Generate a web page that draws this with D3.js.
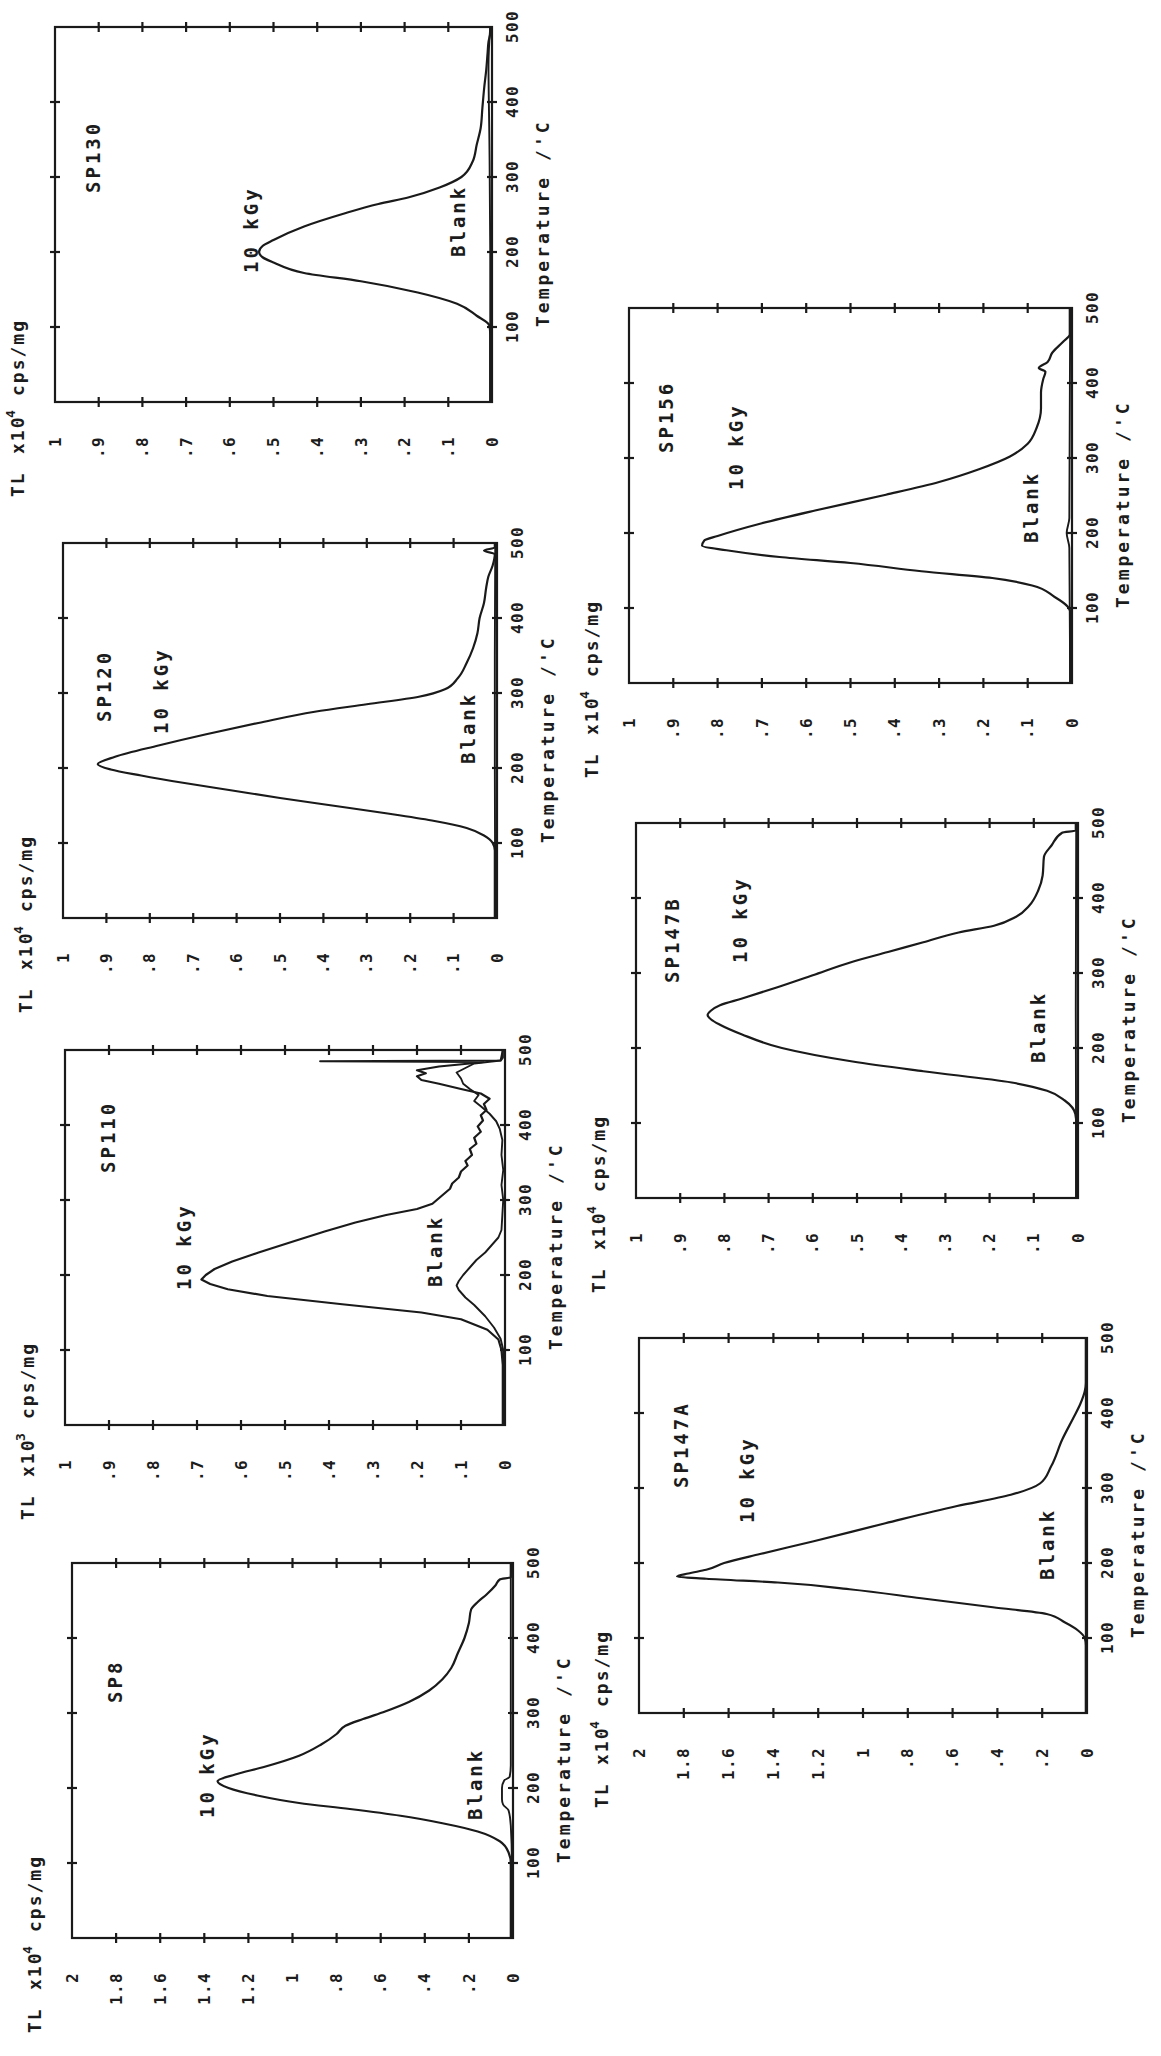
<!DOCTYPE html>
<html>
<head>
<meta charset="utf-8">
<script src="https://cdn.jsdelivr.net/npm/d3@7"></script>
<style>
  html, body { margin: 0; padding: 0; background: #ffffff; }
  svg { display: block; }
  text { font-family: "DejaVu Sans Mono", "Liberation Mono", monospace; fill: #1c1c1c; font-weight: bold; }
  .tick text { font-size: 16px; letter-spacing: 1.4px; }
  .axis-title { font-size: 18px; letter-spacing: 2px; }
  .temp-title { font-size: 18px; letter-spacing: 3px; }
  .note { font-size: 19px; letter-spacing: 3px; }
</style>
</head>
<body>
<svg id="page" width="1161" height="2056"></svg>
<script>
// ---- Glow-curve readings: temperature (°C) and TL intensity ----
const tempTicks = [100, 200, 300, 400, 500];
const tlTicks2 = [0, 0.2, 0.4, 0.6, 0.8, 1, 1.2, 1.4, 1.6, 1.8, 2];
const tlTicks1 = [0, 0.1, 0.2, 0.3, 0.4, 0.5, 0.6, 0.7, 0.8, 0.9, 1];

// SP8 (x10^4 cps/mg)
const tempSP8 = [0, 60, 100, 114, 129, 142, 153, 163, 172, 180, 190, 200, 209, 218, 228, 243, 258, 272, 283, 292, 302, 315, 330, 345, 360, 380, 400, 420, 438, 448, 458, 470, 478, 481, 490, 500];
const doseSP8 = [0.01, 0.01, 0.01, 0.02, 0.06, 0.16, 0.32, 0.51, 0.74, 0.97, 1.16, 1.29, 1.34, 1.26, 1.13, 0.97, 0.87, 0.80, 0.76, 0.68, 0.58, 0.47, 0.38, 0.32, 0.28, 0.25, 0.22, 0.20, 0.19, 0.16, 0.12, 0.08, 0.06, 0.01, 0.01, 0.01];
const blankTempSP8 = [0, 100, 150, 170, 178, 185, 200, 210, 215, 230, 300, 400, 480, 500];
const blankSP8 = [0.005, 0.005, 0.01, 0.02, 0.045, 0.05, 0.05, 0.04, 0.015, 0.01, 0.01, 0.01, 0.01, 0.005];

// SP110 (x10^3 cps/mg)
const tempSP110 = [0, 80, 100, 114, 127, 141, 150, 161, 172, 181, 188, 194, 200, 208, 218, 230, 245, 258, 270, 280, 288, 295, 305, 315, 322, 330, 338, 346, 352, 360, 368, 375, 383, 391, 398, 406, 413, 420, 428, 435, 442, 448, 455, 460, 465, 469, 473, 478, 482, 484, 485, 486, 490, 500];
const doseSP110 = [0.005, 0.005, 0.008, 0.015, 0.04, 0.10, 0.19, 0.37, 0.54, 0.63, 0.67, 0.69, 0.68, 0.66, 0.62, 0.56, 0.48, 0.41, 0.34, 0.27, 0.20, 0.165, 0.145, 0.125, 0.12, 0.105, 0.10, 0.085, 0.09, 0.075, 0.08, 0.065, 0.07, 0.055, 0.062, 0.05, 0.055, 0.042, 0.048, 0.035, 0.055, 0.10, 0.15, 0.19, 0.20, 0.18, 0.20, 0.15, 0.08, 0.05, 0.42, 0.01, 0.005, 0.005];
const blankTempSP110 = [0, 100, 115, 130, 145, 160, 170, 180, 186, 192, 200, 210, 220, 230, 240, 250, 260, 280, 300, 320, 340, 360, 380, 395, 405, 415, 425, 432, 440, 448, 455, 462, 470, 476, 482, 486, 500];
const blankSP110 = [0.004, 0.004, 0.01, 0.025, 0.045, 0.07, 0.09, 0.105, 0.11, 0.105, 0.095, 0.08, 0.065, 0.045, 0.03, 0.015, 0.008, 0.006, 0.004, 0.008, 0.004, 0.008, 0.006, 0.012, 0.02, 0.035, 0.055, 0.07, 0.06, 0.08, 0.095, 0.10, 0.11, 0.09, 0.07, 0.01, 0.005];

// SP120 (x10^4 cps/mg)
const tempSP120 = [0, 90, 100, 110, 120, 130, 140, 150, 160, 170, 180, 190, 198, 205, 215, 230, 245, 260, 275, 285, 295, 305, 320, 340, 360, 380, 400, 420, 440, 455, 470, 485, 490, 494, 500];
const doseSP120 = [0.005, 0.005, 0.01, 0.03, 0.07, 0.15, 0.26, 0.38, 0.50, 0.61, 0.72, 0.82, 0.89, 0.92, 0.88, 0.78, 0.67, 0.55, 0.42, 0.30, 0.18, 0.12, 0.09, 0.07, 0.055, 0.045, 0.04, 0.03, 0.025, 0.02, 0.01, 0.005, 0.03, 0.005, 0.005];
const blankTempSP120 = [0, 200, 350, 500];
const blankSP120 = [0.004, 0.005, 0.005, 0.004];

// SP130 (x10^4 cps/mg)
const tempSP130 = [0, 90, 102, 115, 131, 146, 161, 172, 186, 193, 200, 208, 216, 234, 251, 264, 273, 286, 300, 321, 343, 365, 392, 418, 444, 466, 480, 492, 500];
const doseSP130 = [0.004, 0.004, 0.006, 0.035, 0.08, 0.17, 0.30, 0.43, 0.50, 0.525, 0.533, 0.525, 0.50, 0.43, 0.34, 0.26, 0.19, 0.12, 0.07, 0.044, 0.035, 0.026, 0.022, 0.018, 0.013, 0.01, 0.008, 0.004, 0.004];
const blankTempSP130 = [0, 200, 350, 450, 500];
const blankSP130 = [0.004, 0.004, 0.006, 0.008, 0.004];

// SP147A (x10^4 cps/mg)
const tempSP147A = [0, 90, 100, 110, 121, 132, 141, 153, 165, 174, 179, 182, 186, 191, 200, 212, 229, 253, 276, 291, 306, 329, 365, 394, 412, 429, 440, 500];
const doseSP147A = [0.005, 0.005, 0.01, 0.04, 0.10, 0.18, 0.42, 0.74, 1.06, 1.38, 1.70, 1.83, 1.78, 1.70, 1.62, 1.46, 1.22, 0.90, 0.58, 0.34, 0.21, 0.16, 0.11, 0.06, 0.03, 0.01, 0.005, 0.005];
const blankTempSP147A = [0, 250, 500];
const blankSP147A = [0.005, 0.006, 0.005];

// SP147B (x10^4 cps/mg)
const tempSP147B = [0, 100, 112, 130, 143, 154, 169, 182, 200, 218, 231, 238, 244, 250, 257, 266, 281, 297, 315, 328, 341, 354, 363, 375, 390, 410, 430, 455, 470, 487, 490, 500];
const doseSP147B = [0.004, 0.004, 0.006, 0.03, 0.07, 0.15, 0.35, 0.51, 0.67, 0.76, 0.81, 0.83, 0.838, 0.83, 0.81, 0.76, 0.68, 0.60, 0.51, 0.43, 0.35, 0.27, 0.19, 0.14, 0.11, 0.09, 0.08, 0.077, 0.06, 0.036, 0.005, 0.005];
const blankTempSP147B = [0, 250, 500];
const blankSP147B = [0.004, 0.005, 0.004];

// SP156 (x10^4 cps/mg)
const tempSP156 = [0, 95, 102, 115, 130, 140, 149, 160, 168, 177, 183, 190, 196, 213, 230, 251, 268, 285, 302, 319, 340, 366, 387, 405, 415, 420, 428, 440, 455, 465, 500];
const doseSP156 = [0.004, 0.004, 0.01, 0.04, 0.09, 0.18, 0.34, 0.50, 0.66, 0.78, 0.835, 0.83, 0.80, 0.70, 0.58, 0.42, 0.30, 0.21, 0.14, 0.10, 0.08, 0.07, 0.07, 0.065, 0.06, 0.075, 0.055, 0.045, 0.02, 0.005, 0.005];
const blankTempSP156 = [0, 180, 200, 220, 500];
const blankSP156 = [0.004, 0.006, 0.012, 0.006, 0.004];

// ---- Page layout (the sheet is printed sideways) ----
const ink = "#1a1a1a";
const chartW = 375;                 // length of the temperature axis
const doseLabel = "10 kGy";
const blankLabel = "Blank";

const panels = [
  { name: "SP8",    exp: "4", tlMax: 2, ticks: tlTicks2, dose: [tempSP8, doseSP8],       blank: [blankTempSP8, blankSP8],       frame: [72, 513, 1938],  nameAt: [235, 50], doseAt: [120, 142], blankAt: [118, 410], smooth: true },
  { name: "SP110",  exp: "3", tlMax: 1, ticks: tlTicks1, dose: [tempSP110, doseSP110],   blank: [blankTempSP110, blankSP110],   frame: [65, 505, 1425],  nameAt: [252, 50], doseAt: [135, 126], blankAt: [138, 377], smooth: false },
  { name: "SP120",  exp: "4", tlMax: 1, ticks: tlTicks1, dose: [tempSP120, doseSP120],   blank: [blankTempSP120, blankSP120],   frame: [63, 497, 918],   nameAt: [196, 48], doseAt: [184, 105], blankAt: [154, 412], smooth: true },
  { name: "SP130",  exp: "4", tlMax: 1, ticks: tlTicks1, dose: [tempSP130, doseSP130],   blank: [blankTempSP130, blankSP130],   frame: [55, 492, 402],   nameAt: [209, 45], doseAt: [129, 203], blankAt: [145, 410], smooth: true },
  { name: "SP147A", exp: "4", tlMax: 2, ticks: tlTicks2, dose: [tempSP147A, doseSP147A], blank: [blankTempSP147A, blankSP147A], frame: [639, 1087, 1713], nameAt: [225, 49], doseAt: [190, 115], blankAt: [133, 415], smooth: true },
  { name: "SP147B", exp: "4", tlMax: 1, ticks: tlTicks1, dose: [tempSP147B, doseSP147B], blank: [blankTempSP147B, blankSP147B], frame: [636, 1078, 1198], nameAt: [215, 43], doseAt: [235, 111], blankAt: [135, 409], smooth: true },
  { name: "SP156",  exp: "4", tlMax: 1, ticks: tlTicks1, dose: [tempSP156, doseSP156],   blank: [blankTempSP156, blankSP156],   frame: [629, 1072, 683], nameAt: [230, 44], doseAt: [193, 114], blankAt: [140, 409], smooth: true }
];

const fmtTL = v => v === 0 ? "0" : (v >= 1 ? String(v) : String(v).replace(/^0/, ""));

const svg = d3.select("#page");
svg.append("rect").attr("width", 1161).attr("height", 2056).attr("fill", "#ffffff");

panels.forEach(p => {
  const h = p.frame[1] - p.frame[0];
  // Each glow curve is drawn as an ordinary chart, then turned a quarter turn.
  const g = svg.append("g")
    .attr("transform", `translate(${p.frame[0]},${p.frame[2]}) rotate(-90)`);

  const x = d3.scaleLinear().domain([0, 500]).range([0, chartW]);
  const y = d3.scaleLinear().domain([p.tlMax, 0]).range([0, h]);

  // frame
  g.append("rect")
    .attr("width", chartW).attr("height", h)
    .attr("fill", "none").attr("stroke", ink).attr("stroke-width", 2.2);

  // tick marks crossing every side of the frame
  const tk = 5;
  const tlInner = p.ticks.filter(v => v > 0 && v < p.tlMax);
  const tInner = tempTicks.filter(v => v < 500);
  const tickLines = (sel, data, attrs) => sel.append("g").selectAll("line").data(data).join("line")
    .attr("x1", attrs.x1).attr("x2", attrs.x2).attr("y1", attrs.y1).attr("y2", attrs.y2)
    .attr("stroke", ink).attr("stroke-width", 2.2);
  tickLines(g, tlInner, { x1: -tk, x2: tk, y1: d => y(d), y2: d => y(d) });
  tickLines(g, tlInner, { x1: chartW - tk, x2: chartW + tk, y1: d => y(d), y2: d => y(d) });
  tickLines(g, tInner, { x1: d => x(d), x2: d => x(d), y1: h - tk, y2: h + tk });
  tickLines(g, tInner, { x1: d => x(d), x2: d => x(d), y1: -tk, y2: tk });

  // tick labels
  g.append("g")
    .attr("transform", `translate(0,${h})`)
    .call(d3.axisBottom(x).tickValues(tempTicks).tickSize(0).tickPadding(15))
    .call(a => a.attr("font-family", null).attr("font-size", null))
    .call(a => a.select(".domain").remove());
  g.append("g")
    .call(d3.axisLeft(y).tickValues(p.ticks).tickSize(0).tickPadding(34).tickFormat(fmtTL))
    .call(a => a.attr("font-family", null).attr("font-size", null))
    .call(a => a.select(".domain").remove());

  // axis titles
  const t = g.append("text").attr("class", "axis-title").attr("y", -31);
  t.append("tspan").attr("x", -95).text("TL");
  t.append("tspan").attr("x", -52).text("x10");
  t.append("tspan").attr("x", -16).attr("dy", -9).style("font-size", "13px").text(p.exp);
  t.append("tspan").attr("x", 6).attr("dy", 9).text("cps/mg");

  g.append("text").attr("class", "temp-title")
    .attr("x", 75).attr("y", h + 57)
    .text("Temperature /'C");

  // curves
  const line = d3.line()
    .x(d => x(d[0])).y(d => y(d[1]))
    .curve(p.smooth ? d3.curveMonotoneX : d3.curveLinear);
  const pts = (ts, vs) => ts.map((tv, i) => [tv, vs[i]]);

  g.append("path").datum(pts(p.blank[0], p.blank[1]))
    .attr("d", line).attr("fill", "none").attr("stroke", ink).attr("stroke-width", 1.9)
    .attr("stroke-linejoin", "round");
  g.append("path").datum(pts(p.dose[0], p.dose[1]))
    .attr("d", line).attr("fill", "none").attr("stroke", ink).attr("stroke-width", 2.2)
    .attr("stroke-linejoin", "round");

  // annotations
  g.append("text").attr("class", "note").attr("x", p.nameAt[0]).attr("y", p.nameAt[1]).text(p.name);
  g.append("text").attr("class", "note").attr("x", p.doseAt[0]).attr("y", p.doseAt[1]).text(doseLabel);
  g.append("text").attr("class", "note").attr("x", p.blankAt[0]).attr("y", p.blankAt[1]).text(blankLabel);
});
</script>
</body>
</html>
